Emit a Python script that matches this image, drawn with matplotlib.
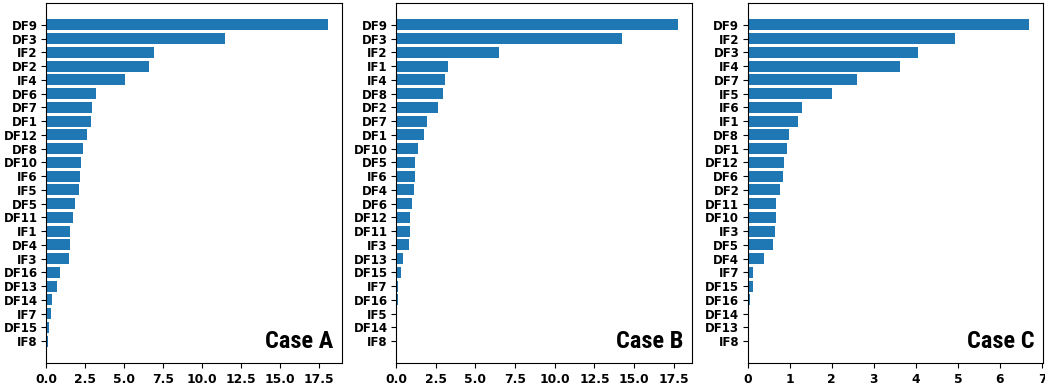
import matplotlib
matplotlib.use("Agg")
from matplotlib import pyplot as plt
from matplotlib import font_manager
import numpy as np

# feature importance per case, listed top to bottom
labels_a = ["DF9", "DF3", "IF2", "DF2", "IF4", "DF6", "DF7", "DF1", "DF12", "DF8", "DF10", "IF6",
            "IF5", "DF5", "DF11", "IF1", "DF4", "IF3", "DF16", "DF13", "DF14", "IF7", "DF15", "IF8"]
values_a = [18.05, 11.5, 6.9, 6.6, 5.05, 3.2, 2.95, 2.88, 2.62, 2.37, 2.24, 2.18,
            2.12, 1.86, 1.73, 1.54, 1.54, 1.47, 0.9, 0.71, 0.38, 0.32, 0.19, 0.13]

labels_b = ["DF9", "DF3", "IF2", "IF1", "IF4", "DF8", "DF2", "DF7", "DF1", "DF10", "DF5", "IF6",
            "DF4", "DF6", "DF12", "DF11", "IF3", "DF13", "DF15", "IF7", "DF16", "IF5", "DF14", "IF8"]
values_b = [17.75, 14.25, 6.5, 3.25, 3.07, 2.93, 2.67, 1.98, 1.78, 1.4, 1.21, 1.21,
            1.14, 1.02, 0.9, 0.9, 0.83, 0.45, 0.32, 0.13, 0.13, 0.06, 0.0, 0.0]

labels_c = ["DF9", "IF2", "DF3", "IF4", "DF7", "IF5", "IF6", "IF1", "DF8", "DF1", "DF12", "DF6",
            "DF2", "DF11", "DF10", "IF3", "DF5", "DF4", "IF7", "DF15", "DF16", "DF14", "DF13", "IF8"]
values_c = [6.7, 4.94, 4.06, 3.63, 2.6, 2.01, 1.29, 1.2, 0.98, 0.94, 0.86, 0.84,
            0.77, 0.67, 0.67, 0.65, 0.6, 0.39, 0.13, 0.13, 0.05, 0.0, 0.0, 0.0]

cases = ["Case A", "Case B", "Case C"]

# pick a narrow heavy face for the case tags if one is around
names = {f.name for f in font_manager.fontManager.ttflist}
stretch = "normal"
tag_font = "DejaVu Sans"
for cand in ["Liberation Sans Narrow", "DejaVu Sans Condensed", "Roboto Condensed",
             "Open Sans Condensed", "Noto Sans Condensed"]:
    if cand in names:
        tag_font = cand
        break
else:
    condensed = [f for f in font_manager.fontManager.ttflist
                 if "ondensed" in str(f.stretch) or f.stretch in (75, 62.5, 87.5)]
    if condensed:
        tag_font = condensed[0].name
        stretch = "condensed"

fig = plt.figure(figsize=(10.45, 3.85), dpi=100)
lefts = [0.044, 0.379, 0.7155]
panels = [(labels_a, values_a), (labels_b, values_b), (labels_c, values_c)]

for left, (labels, values), case in zip(lefts, panels, cases):
    ax = fig.add_axes([left, 0.057, 0.2830, 0.935])
    y = np.arange(len(labels))
    ax.barh(y, values, color="#1f77b4")
    ax.set_yticks(y)
    ax.set_yticklabels(labels, fontweight="bold", fontsize=8.5)
    ax.invert_yaxis()
    ax.tick_params(axis="x", labelsize=8.8)
    ax.tick_params(axis="y", pad=2.5)
    plt.setp(ax.get_xticklabels(), fontweight="bold")
    ax.text(0.97, 0.028, case, transform=ax.transAxes, ha="right", va="bottom",
            fontsize=17.5, fontweight="heavy", fontstretch=stretch,
            family=[tag_font, "DejaVu Sans"])

fig.savefig("out.png", dpi=100)
